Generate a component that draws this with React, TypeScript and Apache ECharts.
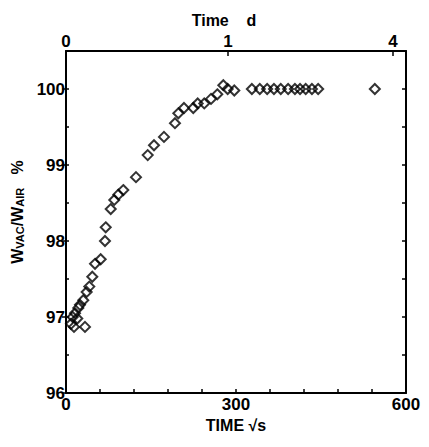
import React, { useEffect, useRef } from "react";
import * as echarts from "echarts";

// time in sqrt(seconds)
const timeSqrtS: number[] = [
  8.8, 11.8, 14.1, 15.9, 19.9, 21.7, 24.7, 30.5, 33.5, 36.5, 41.1, 46.4, 51.2, 61.2,
  68.8, 70.1, 78.9, 85.2, 92.3, 101.1, 123.5, 144.2, 155.3, 172.9, 192.3, 198.2,
  208.2, 224.6, 232.4, 244.0, 255.9, 267.0, 277.6, 285.3, 297.0,
  328, 342, 355, 367, 379, 392, 404, 413, 423, 434, 445, 545,
];
// weight ratio W_VAC / W_AIR in %
const weightRatio: number[] = [
  96.91, 97.0, 96.87, 97.05, 96.98, 97.12, 97.16, 97.22, 96.87, 97.33, 97.4, 97.53, 97.7, 97.76,
  98.0, 98.18, 98.42, 98.54, 98.61, 98.67, 98.84, 99.13, 99.26, 99.37, 99.55, 99.68,
  99.75, 99.75, 99.81, 99.81, 99.87, 99.93, 100.05, 100.0, 99.98,
  100, 100, 100, 100, 100, 100, 100, 100, 100, 100, 100, 100,
];

const bottomTickLabels: number[] = [0, 300, 600];
const leftTickLabels: number[] = [96, 97, 98, 99, 100];
const topTickLabels: string[] = ["0", "1", "4"];
const topTickPositions: number[] = [0, 286, 577];

export default function App() {
  const ref = useRef<HTMLDivElement>(null);
  useEffect(() => {
    if (!ref.current) return;
    const chart = echarts.init(ref.current, null, { renderer: "svg" });
    const font = "Liberation Sans";
    const points = timeSqrtS.map((t, i) => [t, weightRatio[i]]);
    const lineStyle = { color: "#000", width: 2 };
    chart.setOption({
      animation: false,
      backgroundColor: "#fff",
      textStyle: { fontFamily: font, color: "#000" },
      grid: { left: 66, right: 23, top: 51, bottom: 54 },
      xAxis: [
        {
          type: "value",
          position: "bottom",
          min: 0,
          max: 600,
          interval: 60,
          name: "TIME √s",
          nameLocation: "middle",
          nameGap: 22,
          nameTextStyle: { fontSize: 16, fontWeight: "bold", color: "#000", fontFamily: font },
          axisLine: { lineStyle },
          axisTick: { inside: true, length: 4, lineStyle: { color: "#000", width: 1.5 } },
          axisLabel: {
            margin: 3,
            fontSize: 17,
            fontWeight: "bold",
            color: "#000",
            fontFamily: font,
            formatter: (v: number) => (bottomTickLabels.includes(v) ? String(v) : ""),
          },
          splitLine: { show: false },
        },
        {
          type: "value",
          position: "top",
          min: 0,
          max: 600,
          name: "Time    d",
          nameLocation: "middle",
          nameGap: 23,
          nameTextStyle: { fontSize: 16, fontWeight: "bold", color: "#000", fontFamily: font, padding: [0, 24, 0, 0] },
          axisLine: { lineStyle },
          axisTick: { inside: true, length: 5, customValues: topTickPositions, lineStyle: { color: "#000", width: 1.5 } },
          axisLabel: {
            margin: 1,
            fontSize: 17,
            fontWeight: "bold",
            color: "#000",
            fontFamily: font,
            customValues: topTickPositions,
            formatter: (v: number) => {
              const i = topTickPositions.indexOf(v);
              return i >= 0 ? topTickLabels[i] : "";
            },
          },
          splitLine: { show: false },
        },
      ],
      yAxis: [
        {
          type: "value",
          position: "left",
          min: 96,
          max: 100.5,
          interval: 0.5,
          name: "{w|W}{s|VAC}{w|/W}{s|AIR}{w|   %}",
          nameLocation: "middle",
          nameRotate: 90,
          nameGap: 40,
          nameTextStyle: {
            padding: [0, 0, 0, 20],
            rich: {
              w: { fontSize: 16, fontWeight: "bold", color: "#000", fontFamily: font },
              s: { fontSize: 11, fontWeight: "bold", color: "#000", fontFamily: font, verticalAlign: "bottom", padding: [6, 0, 0, 0] },
            },
          },
          axisLine: { lineStyle },
          axisTick: { inside: false, length: 4, customValues: leftTickLabels, lineStyle: { color: "#000", width: 1.5 } },
          axisLabel: {
            margin: 1,
            fontSize: 17,
            fontWeight: "bold",
            color: "#000",
            fontFamily: font,
            customValues: leftTickLabels,
            formatter: (v: number) => String(v),
          },
          splitLine: { show: false },
        },
        {
          type: "value",
          position: "left",
          min: 96,
          max: 100.5,
          interval: 0.5,
          axisLine: { show: false },
          axisTick: { inside: true, length: 3, lineStyle: { color: "#000", width: 1.5 } },
          axisLabel: { show: false },
          splitLine: { show: false },
        },
        {
          type: "value",
          position: "right",
          min: 96,
          max: 100.5,
          interval: 0.5,
          axisLine: { lineStyle },
          axisTick: { inside: true, length: 4, lineStyle: { color: "#000", width: 1.5 } },
          axisLabel: { show: false },
          splitLine: { show: false },
        },
      ],
      series: [
        {
          type: "scatter",
          xAxisIndex: 0,
          yAxisIndex: 0,
          data: points,
          symbol: "diamond",
          symbolSize: [10, 10],
          itemStyle: { color: "rgba(255,255,255,0)", borderColor: "#000", borderWidth: 2 },
          emphasis: { disabled: true },
        },
      ],
    });
    return () => chart.dispose();
  }, []);
  return <div ref={ref} style={{ width: 429, height: 447, position: "absolute", left: 0, top: 0 }} />;
}
